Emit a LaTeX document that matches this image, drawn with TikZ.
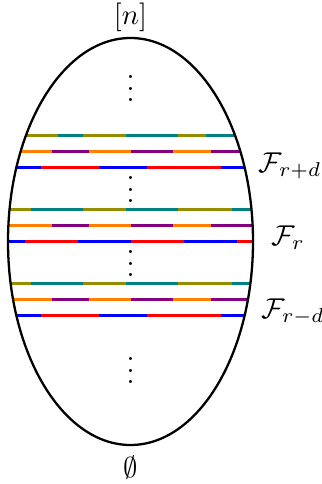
\documentclass[tikz,border=0pt]{standalone}
\usepackage{tikz}
\definecolor{olivec}{RGB}{150,140,0}
\definecolor{tealc}{RGB}{0,128,128}
\definecolor{orangec}{RGB}{255,128,0}
\definecolor{purplec}{RGB}{128,0,128}
\definecolor{redc}{RGB}{255,0,0}
\definecolor{bluec}{RGB}{0,0,255}
\tikzset{
  seg/.style={line width=1.15pt},
  outline/.style={line width=0.8pt},
  lab/.style={inner sep=0pt, anchor=west}
}
\newcommand{\segline}[2]{%
  \foreach \xa/\xb/\cc in {#2} {\draw[seg,\cc] (\xa,#1) -- (\xb,#1);}%
}
\begin{document}
\begin{tikzpicture}[x=0.349pt,y=-0.349pt]
\useasboundingbox (0,0) rectangle (321,484);
\begin{scope}
\clip (130.5,241.5) ellipse [x radius=122.5, y radius=203.5];
% group 1
\segline{135.6}{0/57.7/olivec,57.7/83.3/tealc,83.3/126/olivec,126/178.3/tealc,178.3/205.7/olivec,205.7/321/tealc}
\segline{151.8}{0/52/orangec,52/89/purplec,89/131/orangec,131/173.3/purplec,173.3/211/orangec,211/321/purplec}
\segline{167.8}{0/41.3/bluec,41.3/99.3/redc,99.3/147/bluec,147/221/redc,221/321/bluec}
% group 2
\segline{209.7}{0/30.7/olivec,30.7/83.3/tealc,83.3/126/olivec,126/178.3/tealc,178.3/231.7/olivec,231.7/321/tealc}
\segline{225.5}{0/52/orangec,52/89/purplec,89/131/orangec,131/173.3/purplec,173.3/211/orangec,211/321/purplec}
\segline{241.5}{0/25.3/bluec,25.3/78.3/redc,78.3/131/bluec,131/184.3/redc,184.3/236.7/bluec,236.7/321/redc}
% group 3
\segline{283.7}{0/30.7/olivec,30.7/83.3/tealc,83.3/126/olivec,126/178.3/tealc,178.3/231.7/olivec,231.7/321/tealc}
\segline{299.3}{0/52/orangec,52/89/purplec,89/131/orangec,131/173.3/purplec,173.3/211/orangec,211/321/purplec}
\segline{315.2}{0/41.3/bluec,41.3/99.3/redc,99.3/147/bluec,147/221/redc,221/321/bluec}
\end{scope}
\draw[outline] (130.5,241.5) ellipse [x radius=122.5, y radius=203.5];
\node (top) at (130.5,17) {$[n]$};
\node (bot) at (131,468) {$\emptyset$};
\node (d1) at (130.5,80) {$\vdots$};
\node (d2) at (130.5,181) {$\vdots$};
\node (d3) at (130.5,255) {$\vdots$};
\node (d4) at (130.5,362) {$\vdots$};
\node[lab] (frd) at (258,166) {$\mathcal{F}_{r+d}$};
\node[lab] (fr) at (271,238) {$\mathcal{F}_{r}$};
\node[lab] (fmd) at (261,312) {$\mathcal{F}_{r-d}$};
\end{tikzpicture}
\end{document}
